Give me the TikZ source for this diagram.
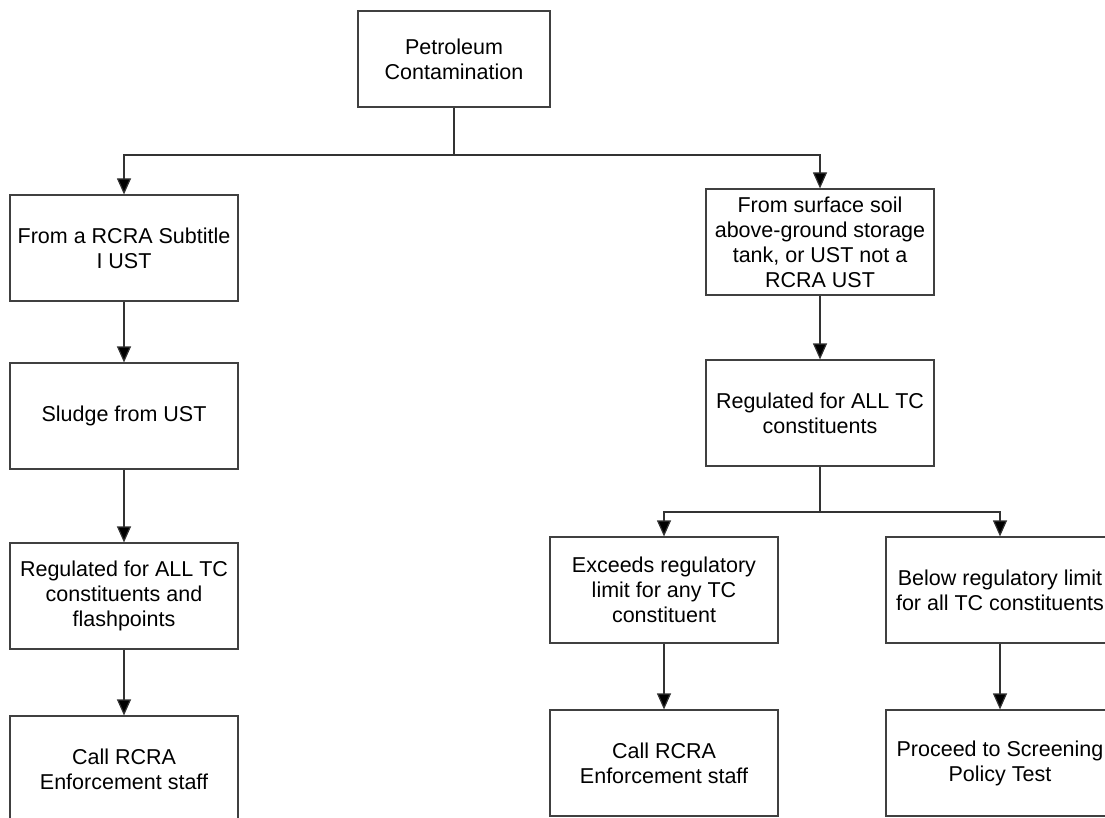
\documentclass[tikz,border=0pt]{standalone}
\usepackage{fontspec}
\setmainfont{Liberation Sans}
\usetikzlibrary{arrows.meta, positioning}

\tikzset{
	box/.style={draw=black!75, line width=1.2pt, fill=white, shape=rectangle, minimum width=228pt, minimum height=106pt, align=center, font=\fontsize{21.5}{25}\selectfont},
	link/.style={draw=black!80, line width=1.2pt, -{Triangle[width=14pt, length=16pt, fill=black]}}
}

\begin{document}
\begin{tikzpicture}[x=1pt, y=-1pt]
	\useasboundingbox (0,0) rectangle (1105,818);
	\clip (0,0) rectangle (1105,818);
	% top of the tree
	\node[box, minimum width=192pt, minimum height=96pt] (petrol) at (454,59) {Petroleum\\Contamination};
	\coordinate (split) at (454,155);
	% left column
	\node[box] (rcra) at (124,248) {From a RCRA Subtitle\\I UST};
	\node[box] (sludge) at (124,416) {Sludge from UST};
	\node[box] (regall) at (124,596) {Regulated for ALL TC\\constituents and\\flashpoints};
	\node[box] (callleft) at (124,769) {Call RCRA\\Enforcement staff};
	% right column
	\node[box] (surface) at (820,242) {From surface soil\\above-ground storage\\tank, or UST not a\\RCRA UST};
	\node[box] (regtc) at (820,413) {Regulated for ALL TC\\constituents};
	\coordinate (split2) at (820,512);
	\node[box] (exceeds) at (664,590) {Exceeds regulatory\\limit for any TC\\constituent};
	\node[box] (below) at (1000,590) {Below regulatory limit\\for all TC constituents};
	\node[box] (callright) at (664,763) {Call RCRA\\Enforcement staff};
	\node[box] (proceed) at (1000,763) {Proceed to Screening\\Policy Test};
	% connectors
	\draw[link] (petrol.south) -- (split) -| (rcra.north);
	\draw[link] (petrol.south) -- (split) -| (surface.north);
	\draw[link] (rcra) -- (sludge);
	\draw[link] (sludge) -- (regall);
	\draw[link] (regall) -- (callleft);
	\draw[link] (surface) -- (regtc);
	\draw[link] (regtc.south) -- (split2) -| (exceeds.north);
	\draw[link] (regtc.south) -- (split2) -| (below.north);
	\draw[link] (exceeds) -- (callright);
	\draw[link] (below) -- (proceed);
\end{tikzpicture}
\end{document}
